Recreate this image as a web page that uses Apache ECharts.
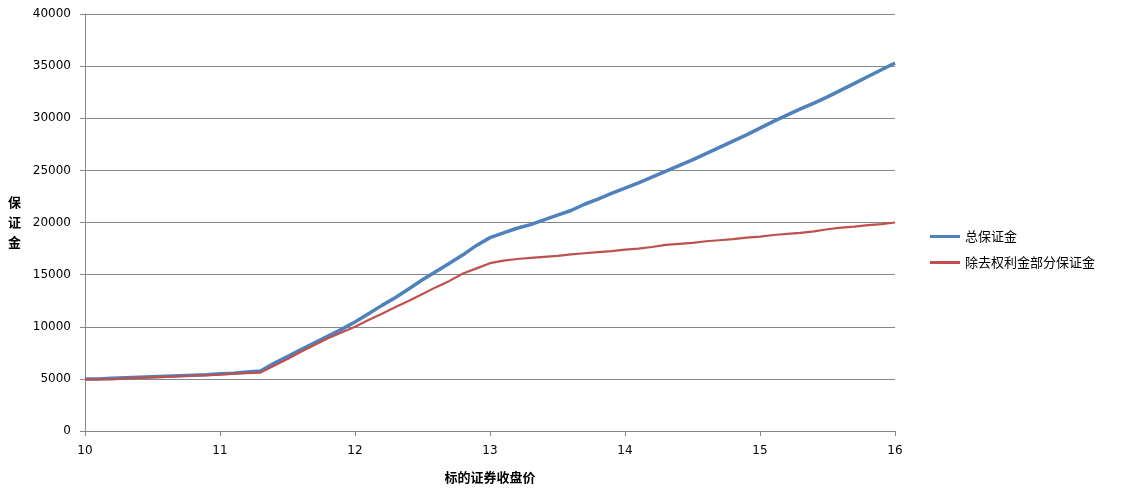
<!DOCTYPE html>
<html><head><meta charset="utf-8">
<script src="https://cdn.jsdelivr.net/npm/echarts@6/dist/echarts.min.js"></script>
<style>html,body{margin:0;padding:0;background:#fff}#c{width:1122px;height:492px}</style>
</head><body><div id="c"></div>
<script>
const xValues = [10.0,10.1,10.2,10.3,10.4,10.5,10.6,10.7,10.8,10.9,11.0,11.1,11.2,11.3,11.4,11.5,11.6,11.7,11.8,11.9,12.0,12.1,12.2,12.3,12.4,12.5,12.6,12.7,12.8,12.9,13.0,13.1,13.2,13.3,13.4,13.5,13.6,13.7,13.8,13.9,14.0,14.1,14.2,14.3,14.4,14.5,14.6,14.7,14.8,14.9,15.0,15.1,15.2,15.3,15.4,15.5,15.6,15.7,15.8,15.9,16.0];
const totalMargin = [5000,5000,5050,5100,5150,5200,5250,5300,5350,5400,5500,5550,5650,5750,6500,7150,7800,8450,9100,9750,10450,11250,12050,12800,13650,14500,15300,16100,16900,17800,18550,19000,19450,19800,20250,20700,21150,21750,22250,22800,23300,23800,24350,24900,25450,26000,26600,27200,27800,28400,29050,29700,30300,30900,31450,32050,32700,33350,34000,34650,35300];
const exPremiumMargin = [4950,4950,4950,5050,5100,5150,5200,5250,5300,5350,5400,5500,5550,5600,6250,6900,7600,8250,8900,9450,10000,10650,11250,11900,12500,13150,13800,14400,15100,15600,16100,16350,16500,16600,16700,16800,16950,17050,17150,17250,17400,17500,17650,17850,17950,18050,18200,18300,18400,18550,18650,18800,18900,19000,19150,19350,19500,19600,19750,19850,20000];
const seriesNames = ['总保证金','除去权利金部分保证金'];
const xName = '标的证券收盘价';
const yName = '保\n证\n金';

const chart = echarts.init(document.getElementById('c'), null, {renderer:'canvas'});
const font = '"DejaVu Sans", "Noto Sans CJK SC", sans-serif';
const cjk = '"Noto Sans CJK SC", sans-serif';
chart.setOption({
  animation:false,
  backgroundColor:'#fff',
  grid:{left:85,right:227,top:14,bottom:61,containLabel:false},
  legend:{
    orient:'vertical', left:925, top:225, itemGap:13, itemWidth:30, itemHeight:3, icon:'rect',
    textStyle:{fontFamily:cjk,fontSize:13,color:'#000'},
    data:seriesNames
  },
  xAxis:{
    type:'value', min:10, max:16, interval:1,
    name:xName, nameLocation:'middle', nameGap:40,
    nameTextStyle:{fontFamily:cjk,fontSize:13,fontWeight:'bold',color:'#000'},
    axisLine:{lineStyle:{color:'#868686',width:1}},
    axisTick:{show:true,length:5,lineStyle:{color:'#868686'}},
    axisLabel:{fontFamily:font,fontSize:12,color:'#000',margin:14},
    splitLine:{show:false}
  },
  yAxis:{
    type:'value', min:0, max:40000, interval:5000,
    name:yName, nameLocation:'middle', nameGap:64, nameRotate:0,
    nameTextStyle:{fontFamily:cjk,fontSize:13,fontWeight:'bold',color:'#000',lineHeight:20},
    axisLine:{show:true,lineStyle:{color:'#868686',width:1}},
    axisTick:{show:true,length:5,lineStyle:{color:'#868686'}},
    axisLabel:{fontFamily:font,fontSize:12,color:'#000',margin:14,formatter:v=>String(v)},
    splitLine:{lineStyle:{color:'#868686',width:1}}
  },
  series:[
    {name:seriesNames[0],type:'line',showSymbol:false,symbol:'none',
     data:xValues.map((x,i)=>[x,totalMargin[i]]),
     itemStyle:{color:'#4F81BD'},lineStyle:{color:'#4F81BD',width:3.5}},
    {name:seriesNames[1],type:'line',showSymbol:false,symbol:'none',
     data:xValues.map((x,i)=>[x,exPremiumMargin[i]]),
     itemStyle:{color:'#C0504D'},lineStyle:{color:'#C0504D',width:2.2}}
  ]
});
</script></body></html>
